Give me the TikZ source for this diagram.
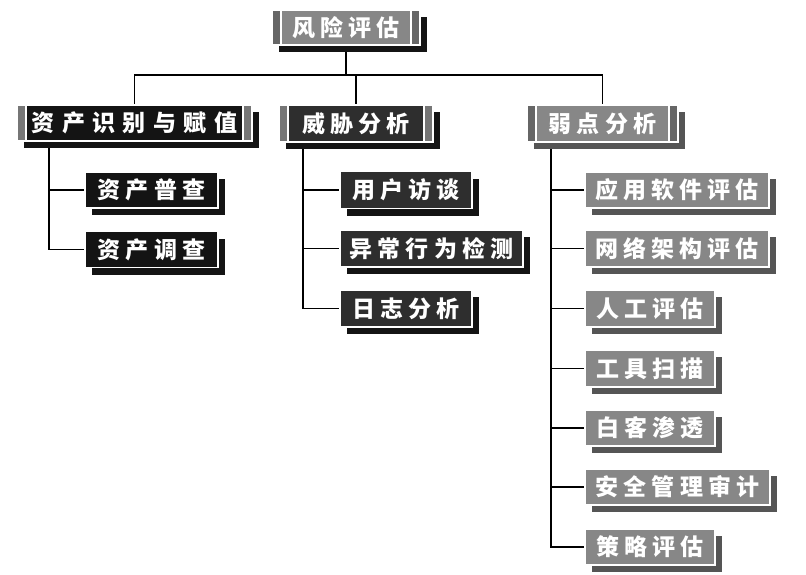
\documentclass[tikz,border=0pt]{standalone}
\usepackage{fontspec}
\newfontfamily\cjk[LetterSpace=22]{Noto Sans CJK SC}
\newfontfamily\cjkwide[LetterSpace=32]{Noto Sans CJK SC}
\usetikzlibrary{shadows,backgrounds}
\definecolor{kblack}{HTML}{141414}
\definecolor{kdark}{HTML}{2E2E2E}
\definecolor{kgray}{HTML}{878787}
\definecolor{kbar}{HTML}{767676}
\definecolor{kbardark}{HTML}{666666}
\definecolor{kshadow}{HTML}{555555}
\tikzset{
  base/.style={rectangle, inner sep=0pt, draw=white, line width=1.2pt, text=white,
    font=\cjk\bfseries\fontsize{23}{23}\selectfont,
    drop shadow={shadow xshift=7pt, shadow yshift=-7pt, fill=#1, opacity=1}},
  kidbox/.style 2 args={base=#2, fill=#1, minimum height=36pt},
  barbox/.style n args={3}{base=#3, fill=#1, minimum height=36pt,
    path picture={
      \fill[#2] ([xshift=9pt]path picture bounding box.south west) rectangle ([xshift=-9pt]path picture bounding box.north east);
      \draw[white, line width=1.2pt] ([xshift=9pt]path picture bounding box.south west) -- ([xshift=9pt]path picture bounding box.north west);
      \draw[white, line width=1.2pt] ([xshift=-9pt]path picture bounding box.south east) -- ([xshift=-9pt]path picture bounding box.north east);
    }},
  conn/.style={draw=black, line width=1.5pt}
}
\begin{document}
\begin{tikzpicture}[x=1pt,y=-1pt]
\useasboundingbox (0,0) rectangle (806,575);
% top
\node[barbox={kbardark}{kgray}{kblack}, minimum width=148pt, minimum height=35pt] (T) at (346,27.5) {风险评估};
% level one
\node[barbox={kbar}{kblack}{kblack}, minimum width=235pt, font=\cjkwide\bfseries\fontsize{23}{23}\selectfont] (A) at (134.5,123) {资产识别与赋值};
\node[barbox={kbar}{kdark}{kblack}, minimum width=154pt, minimum height=37pt] (B) at (356,123.5) {威胁分析};
\node[barbox={kbardark}{kgray}{kshadow}, minimum width=151pt, minimum height=37pt] (C) at (602.5,123.5) {弱点分析};
% children A
\node[kidbox={kblack}{kblack}, minimum width=133pt] (a1) at (151.5,190) {资产普查};
\node[kidbox={kblack}{kblack}, minimum width=133pt] (a2) at (151.5,249.5) {资产调查};
% children B
\node[kidbox={kdark}{kblack}, minimum width=132pt, minimum height=37pt] (b1) at (406,190) {用户访谈};
\node[kidbox={kdark}{kblack}, minimum width=183pt, minimum height=37pt] (b2) at (431.5,248.5) {异常行为检测};
\node[kidbox={kdark}{kblack}, minimum width=132pt, minimum height=37pt] (b3) at (406,308.5) {日志分析};
% children C
\node[kidbox={kgray}{kshadow}, minimum width=184pt] (c1) at (677,190) {应用软件评估};
\node[kidbox={kgray}{kshadow}, minimum width=184pt, minimum height=37pt] (c2) at (677,248.5) {网络架构评估};
\node[kidbox={kgray}{kshadow}, minimum width=130pt, minimum height=37pt] (c3) at (650,308.5) {人工评估};
\node[kidbox={kgray}{kshadow}, minimum width=130pt, minimum height=37pt] (c4) at (650,368.5) {工具扫描};
\node[kidbox={kgray}{kshadow}, minimum width=130pt] (c5) at (650,428) {白客渗透};
\node[kidbox={kgray}{kshadow}, minimum width=185pt] (c6) at (677.5,487) {安全管理审计};
\node[kidbox={kgray}{kshadow}, minimum width=130pt] (c7) at (650,547) {策略评估};
% connectors
\coordinate (hub) at (346,75);
\coordinate (ta) at (49,141);
\coordinate (tb) at (303,142);
\coordinate (tc) at (551,142);
\begin{pgfonlayer}{background}
\draw[conn] (T.south) -- (hub);
\draw[conn] (hub) -| (A.north);
\draw[conn] (hub) -| (B.north);
\draw[conn] (hub) -| (C.north);
\foreach \k in {a1,a2} \draw[conn] (ta) |- (\k.west);
\foreach \k in {b1,b2,b3} \draw[conn] (tb) |- (\k.west);
\foreach \k in {c1,c2,c3,c4,c5,c6,c7} \draw[conn] (tc) |- (\k.west);
\end{pgfonlayer}
\end{tikzpicture}
\end{document}
